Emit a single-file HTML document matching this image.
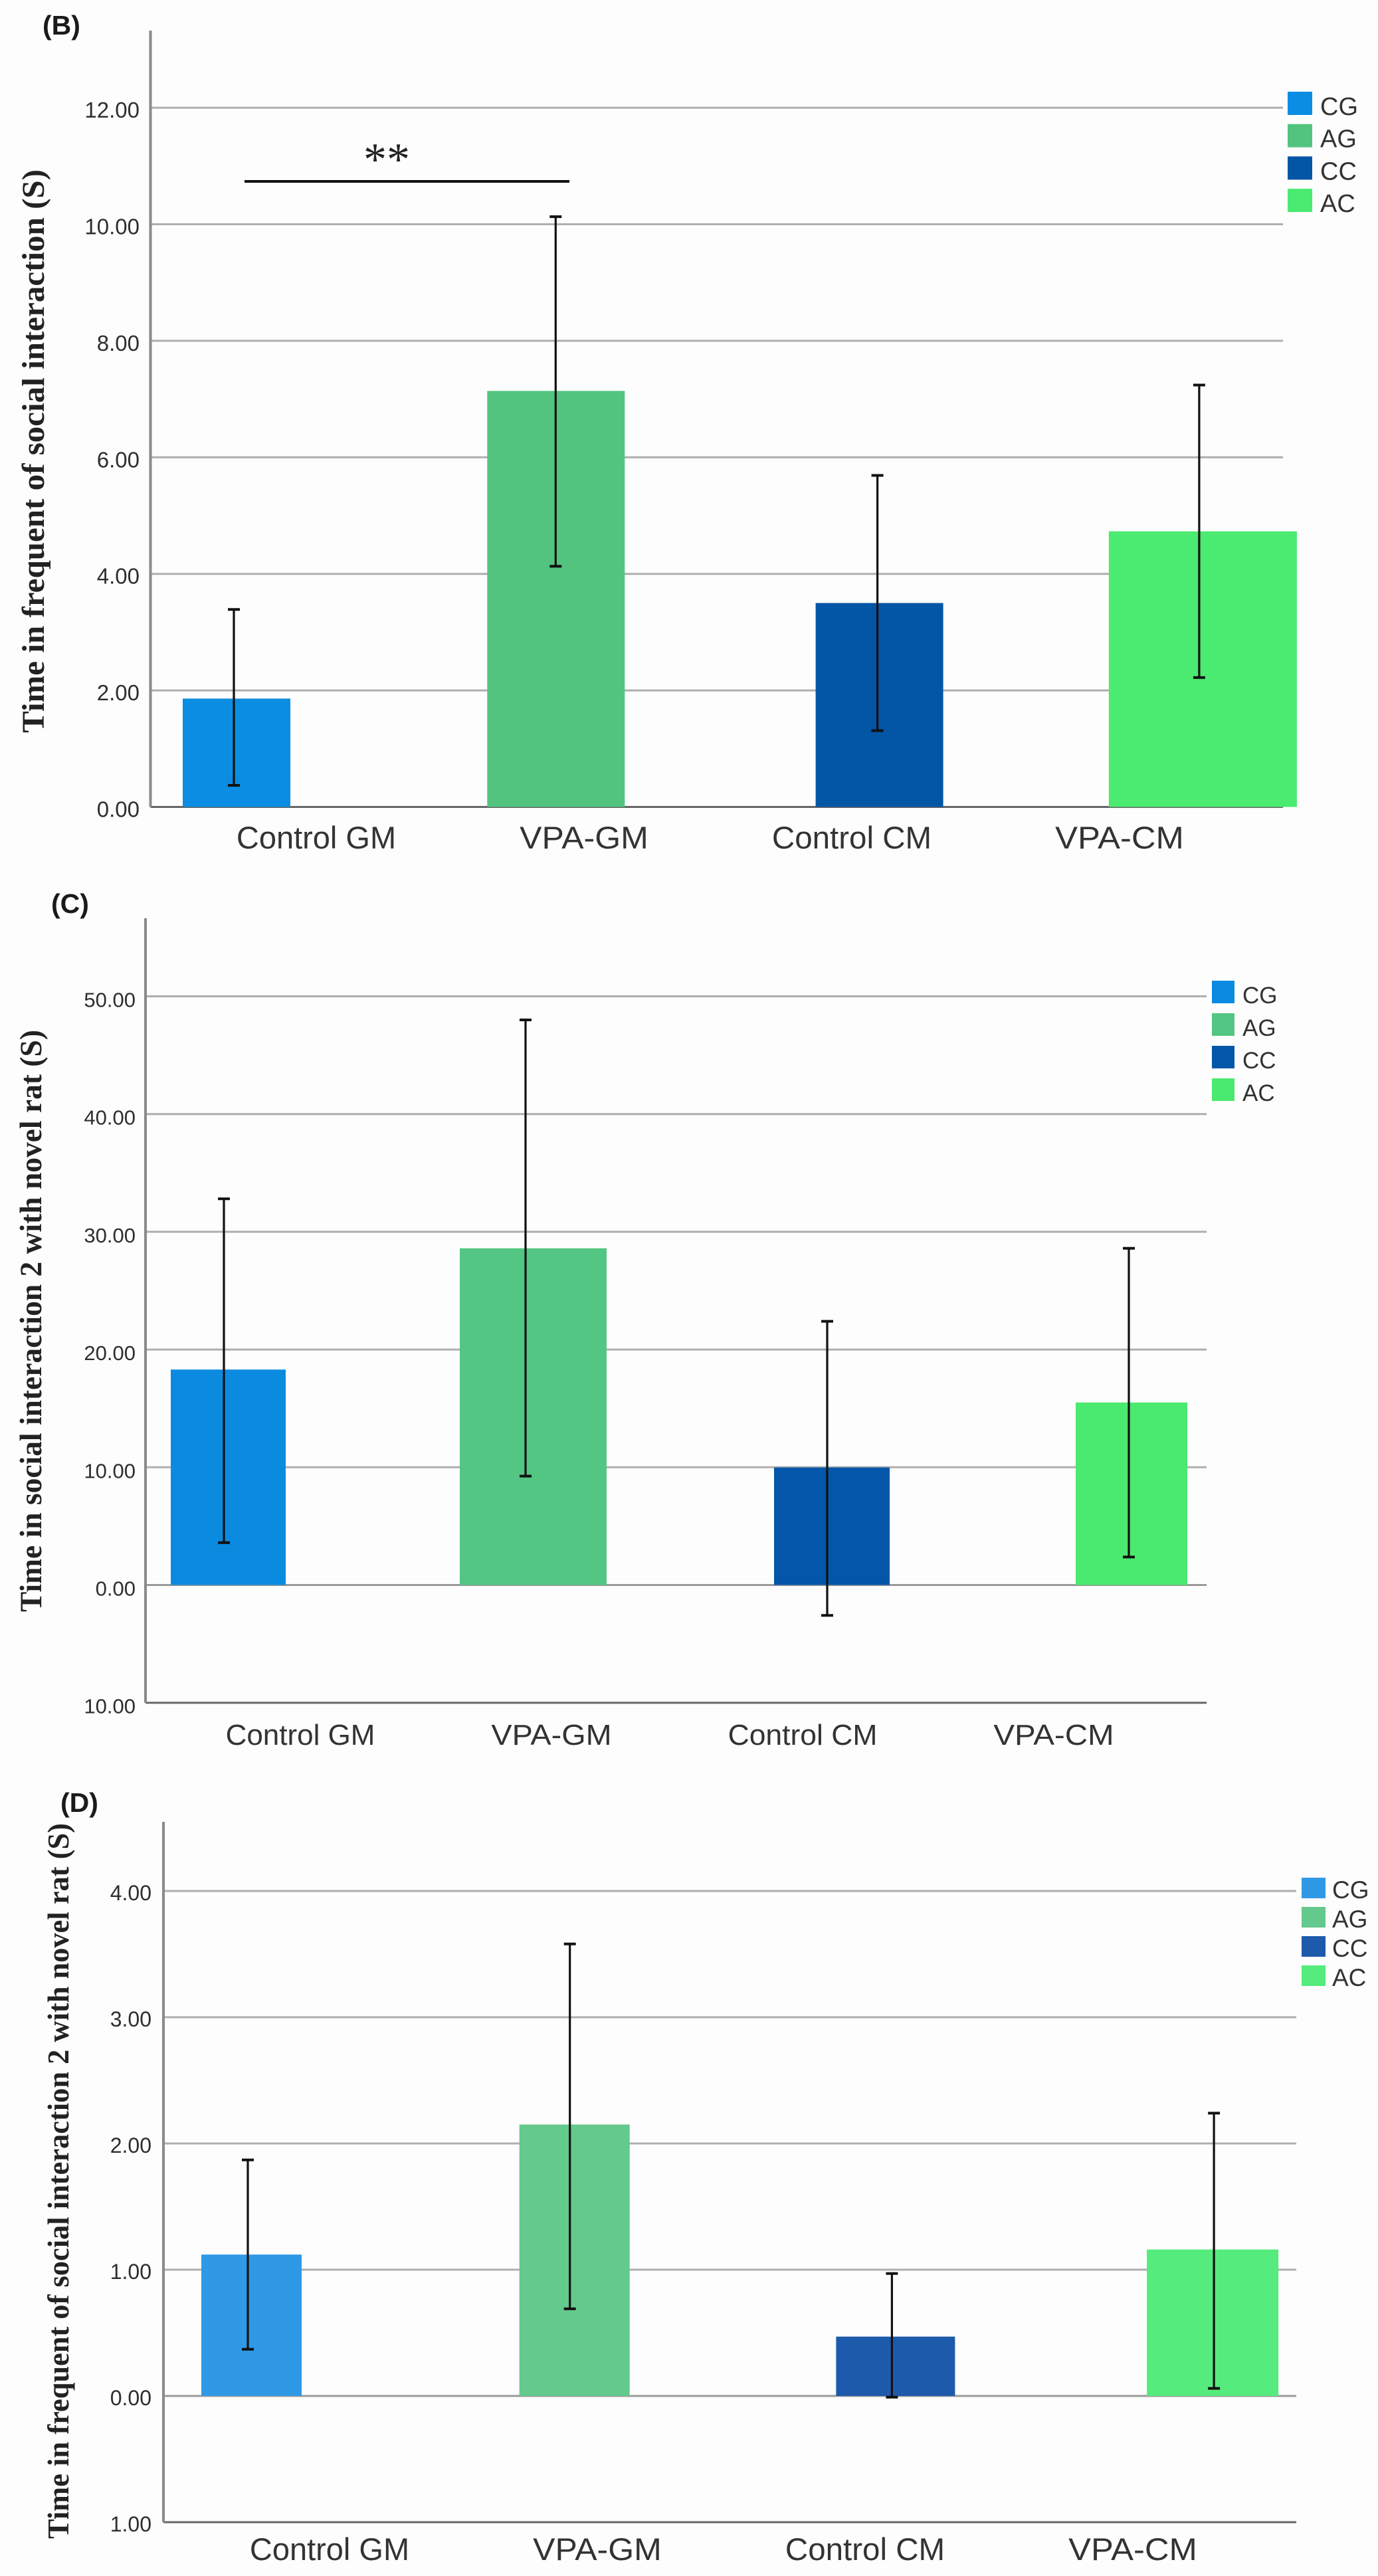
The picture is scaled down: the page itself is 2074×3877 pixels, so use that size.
<!DOCTYPE html>
<html lang="en">
<head>
<meta charset="utf-8">
<title>Social interaction bar charts</title>
<style>
html,body{margin:0;padding:0;background:#fdfdfd;}
svg{display:block;}
</style>
</head>
<body>
<svg id="figure" xmlns="http://www.w3.org/2000/svg" width="2074" height="3877" viewBox="0 0 2074 3877"></svg>
<script>
const categories = ['Control GM', 'VPA-GM', 'Control CM', 'VPA-CM'];
const legendNames = ['CG', 'AG', 'CC', 'AC'];

const bMeans = [1.86, 7.14, 3.5, 4.73];
const bErrLow = [0.37, 4.13, 1.31, 2.22];
const bErrHigh = [3.39, 10.13, 5.69, 7.24];
const bTickValues = [0, 2, 4, 6, 8, 10, 12];
const bTickLabels = ['0.00', '2.00', '4.00', '6.00', '8.00', '10.00', '12.00'];

const cMeans = [18.3, 28.6, 9.98, 15.5];
const cErrLow = [3.6, 9.25, -2.58, 2.38];
const cErrHigh = [32.8, 48, 22.4, 28.6];
const cTickValues = [-10, 0, 10, 20, 30, 40, 50];
const cTickLabels = ['10.00', '0.00', '10.00', '20.00', '30.00', '40.00', '50.00'];

const dMeans = [1.12, 2.15, 0.47, 1.16];
const dErrLow = [0.37, 0.69, -0.01, 0.06];
const dErrHigh = [1.87, 3.58, 0.97, 2.24];
const dTickValues = [-1, 0, 1, 2, 3, 4];
const dTickLabels = ['1.00', '0.00', '1.00', '2.00', '3.00', '4.00'];

const svg = document.getElementById('figure');
const NS = 'http://www.w3.org/2000/svg';

function make(tag, attrs, text) {
  const el = document.createElementNS(NS, tag);
  for (const k in attrs) el.setAttribute(k, attrs[k]);
  if (text !== undefined) el.textContent = text;
  svg.appendChild(el);
  return el;
}

function drawChart(c) {
  const yScale = v => c.zeroY + (c.unitY * -v);
  const whiskerX = i => c.whiskerStart + c.whiskerStep * i;
  const barCenter = i => whiskerX(i) + c.barNudge[i];
  const labelX = i => c.labelStart + c.labelStep * i;
  const sans = '"Liberation Sans", sans-serif';
  const serif = '"Liberation Serif", serif';

  // panel letter
  let el = make('text', {x: c.panelX, y: c.panelY, 'font-family': sans, 'font-weight': 'bold', 'font-size': 41, fill: '#1a1a1a'}, c.panel);
  
  

  // gridlines and tick labels
  c.tickValues.forEach((v, i) => {
    const y = yScale(v);
    const line = make('line', {x1: c.axisX, x2: c.gridEnd, y1: y, y2: y, stroke: v === c.tickValues[0] ? '#666' : (v === 0 ? '#9a9a9a' : '#aeaeae'), 'stroke-width': 3});
    
    
    const t = make('text', {x: c.tickRight, y: y + c.tickDrop, 'text-anchor': 'end', 'font-family': sans, 'font-size': c.tickFont, fill: '#2e2e2e'}, c.tickLabels[i]);
    
    
  });

  // y axis
  el = make('line', {x1: c.axisX, x2: c.axisX, y1: c.axisTop, y2: yScale(c.tickValues[0]), stroke: '#8a8a8a', 'stroke-width': 4});
  
  

  // bars
  c.means.forEach((m, i) => {
    const w = c.barWidths[i];
    const top = yScale(m);
    const bar = make('rect', {x: barCenter(i) - w / 2, y: top, width: w, height: yScale(0) - top, fill: c.colors[i]});
    
    
  });

  // error bars
  c.means.forEach((m, i) => {
    const x = whiskerX(i);
    const hi = yScale(c.errHigh[i]);
    const lo = yScale(c.errLow[i]);
    const stem = make('line', {x1: x, x2: x, y1: hi, y2: lo, stroke: '#111', 'stroke-width': 3.2});
    
    
    const capHi = make('line', {x1: x - 9, x2: x + 9, y1: hi, y2: hi, stroke: '#111', 'stroke-width': 4});
    
    
    const capLo = make('line', {x1: x - 9, x2: x + 9, y1: lo, y2: lo, stroke: '#111', 'stroke-width': 4});
    
    
  });

  // category labels
  categories.forEach((name, i) => {
    const t = make('text', {
      x: labelX(i), y: c.labelY, 'text-anchor': 'middle', 'font-family': sans, 'font-size': c.labelFont, fill: '#333',
      textLength: c.labelFont * (name.indexOf('VPA') === 0 ? 4.12 : 5.11), lengthAdjust: 'spacingAndGlyphs'
    }, name);
    
    
  });

  // y title
  const midY = (c.titleTop + c.titleBottom) / 2;
  el = make('text', {
    x: 0, y: 0,
    transform: 'translate(' + c.titleX + ' ' + midY + ') rotate(-90)',
    'text-anchor': 'middle', 'font-family': serif, 'font-weight': 'bold', 'font-size': c.titleFont, fill: '#222',
    textLength: c.titleBottom - c.titleTop, lengthAdjust: 'spacingAndGlyphs'
  }, c.title);
  
  

  // legend
  legendNames.forEach((name, i) => {
    const y = c.legendY + c.legendStep * i;
    const sw = make('rect', {x: c.legendX, y: y, width: c.swatchW, height: c.swatchH, fill: c.colors[i]});
    
    
    const t = make('text', {x: c.legendTextX, y: y + c.swatchH, 'font-family': sans, 'font-size': c.legendFont, fill: '#333'}, name);
    
    
  });
}

drawChart({
  panel: '(B)', panelX: 64, panelY: 52,
  title: 'Time in frequent of social interaction (S)', titleFont: 48,
  means: bMeans, errLow: bErrLow, errHigh: bErrHigh,
  tickValues: bTickValues, tickLabels: bTickLabels,
  colors: ['#0a8de2', '#52c47f', '#0355a6', '#4bea70'],
  zeroY: 1214.5, unitY: 87.7, axisX: 226.5, axisTop: 46, gridEnd: 1931,
  tickRight: 210, tickDrop: 15, tickFont: 33,
  whiskerStart: 352, whiskerStep: 484.3,
  barNudge: [4, 0.5, 3, 5.5], barWidths: [162, 207, 192, 283],
  labelStart: 476, labelStep: 403, labelY: 1277, labelFont: 47,
  titleX: 66, titleTop: 255, titleBottom: 1103,
  legendX: 1938, legendY: 138, legendStep: 48.7, swatchW: 37, swatchH: 35,
  legendTextX: 1987, legendFont: 38
});

drawChart({
  panel: '(C)', panelX: 77, panelY: 1374,
  title: 'Time in social interaction 2 with novel rat (S)', titleFont: 47,
  means: cMeans, errLow: cErrLow, errHigh: cErrHigh,
  tickValues: cTickValues, tickLabels: cTickLabels,
  colors: ['#0a8be0', '#52c682', '#0457a8', '#4ae96f'],
  zeroY: 2385.5, unitY: 17.72, axisX: 219, axisTop: 1382, gridEnd: 1816,
  tickRight: 204, tickDrop: 16, tickFont: 31,
  whiskerStart: 337, whiskerStep: 454,
  barNudge: [6.5, 11.5, 7, 4], barWidths: [173, 221, 174, 168],
  labelStart: 452, labelStep: 378, labelY: 2626, labelFont: 44,
  titleX: 62, titleTop: 1550, titleBottom: 2426,
  legendX: 1824, legendY: 1476, legendStep: 49, swatchW: 34, swatchH: 34,
  legendTextX: 1870, legendFont: 35
});

drawChart({
  panel: '(D)', panelX: 91, panelY: 2727,
  title: 'Time in frequent of social interaction 2 with novel rat (S)', titleFont: 46,
  means: dMeans, errLow: dErrLow, errHigh: dErrHigh,
  tickValues: dTickValues, tickLabels: dTickLabels,
  colors: ['#2f99e6', '#63c98c', '#1e5aab', '#55eb7d'],
  zeroY: 3606, unitY: 190, axisX: 246, axisTop: 2742, gridEnd: 1951,
  tickRight: 228, tickDrop: 14, tickFont: 32,
  whiskerStart: 373, whiskerStep: 484.7,
  barNudge: [5.5, 7, 5.5, -2], barWidths: [151, 166, 179, 198],
  labelStart: 496, labelStep: 403, labelY: 3853, labelFont: 47,
  titleX: 103, titleTop: 2744, titleBottom: 3821,
  legendX: 1959, legendY: 2826, legendStep: 44, swatchW: 36, swatchH: 31,
  legendTextX: 2005, legendFont: 37
});

// significance marker on panel B
const sigLine = make('line', {x1: 368, x2: 857, y1: 273, y2: 273, stroke: '#111', 'stroke-width': 4});


const sigStars = make('text', {x: 582, y: 263, 'text-anchor': 'middle', 'font-family': '"Liberation Serif", serif', 'font-size': 70, fill: '#222'}, '**');


</script>
</body>
</html>
